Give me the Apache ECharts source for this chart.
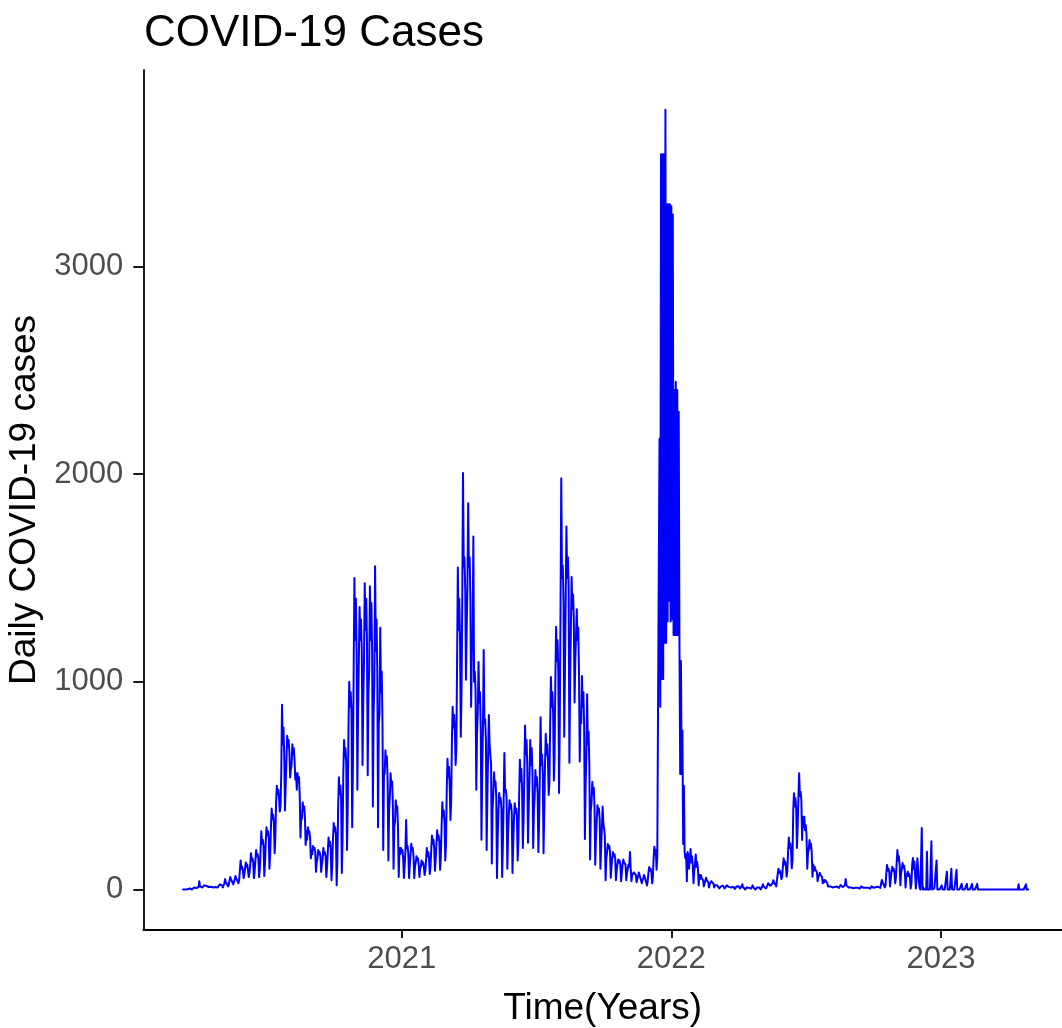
<!DOCTYPE html>
<html>
<head>
<meta charset="utf-8">
<title>COVID-19 Cases</title>
<script src="https://cdn.jsdelivr.net/npm/echarts@6/dist/echarts.min.js"></script>
<style>
  html, body { margin: 0; padding: 0; background: #ffffff; }
  #chart { width: 1062px; height: 1028px; }
</style>
</head>
<body>
<div id="chart"></div>
<script>
// Daily case counts, one array per calendar year, one row per week.
// 2020 starts with the first report on 11 March.
const start2020 = '2020-03-11';
const cases2020 = [
  0, 5, 2, 0, 3, 0, 1,
  2, 4, 5, 1, 3, 0, 2,
  5, 10, 6, 8, 7, 3, 4,
  12, 40, 15, 14, 16, 10, 11,
  14, 20, 15, 13, 17, 10, 12,
  12, 15, 11, 13, 14, 8, 10,
  13, 15, 12, 14, 13, 10, 11,
  15, 25, 18, 16, 20, 10, 14,
  30, 50, 35, 40, 38, 15, 25,
  45, 60, 50, 55, 48, 25, 35,
  50, 65, 55, 60, 58, 30, 45,
  90, 140, 100, 110, 95, 55, 70,
  100, 130, 110, 120, 115, 60, 80,
  120, 175, 140, 150, 130, 55, 90,
  140, 190, 160, 170, 150, 60, 100,
  190, 280, 220, 240, 210, 65, 130,
  230, 300, 260, 280, 250, 100, 170,
  300, 390, 340, 360, 320, 175, 250,
  420, 500, 460, 480, 440, 375, 400,
  560, 890, 700, 780, 650, 380, 500,
  620, 740, 690, 720, 660, 540, 580,
  600, 700, 650, 680, 620, 530, 560,
  480, 560, 520, 540, 450, 250, 350,
  340, 420, 380, 400, 350, 215, 280,
  240, 300, 270, 280, 250, 150, 190,
  170, 210, 190, 200, 180, 85, 130,
  150, 190, 170, 180, 160, 85, 120,
  150, 200, 170, 180, 160, 60, 110,
  180, 250, 210, 230, 200, 45, 120,
  240, 320, 280, 300, 260, 20, 150,
  400, 540, 460, 500, 440, 80, 250,
  560, 720, 640, 680, 600, 190, 400,
  780, 1000, 880, 950, 860, 300, 600,
  1050, 1500, 1200, 1400, 1150, 480, 850,
  1100, 1360, 1200, 1300, 1150, 600, 900,
  1100, 1475, 1250, 1400, 1200, 550, 950,
  1050, 1460, 1200, 1380, 1150, 400, 850,
  1000, 1557, 1150, 1300, 1050, 300, 800,
  850, 1260, 950, 1050, 800, 190, 550,
  560, 670, 600, 640, 520, 140, 380,
  450, 560, 500, 520, 420, 100, 300,
  330, 430, 380, 400, 300, 60, 200,
  170, 200
];

const cases2021 = [
  180, 190, 150, 55, 110,
  180, 335, 200, 210, 170, 55, 120,
  170, 220, 190, 200, 160, 55, 110,
  130, 160, 140, 150, 120, 60, 100,
  110, 140, 120, 130, 110, 70, 90,
  140, 200, 160, 180, 150, 75, 110,
  190, 260, 220, 240, 200, 90, 140,
  220, 285, 240, 260, 230, 95, 160,
  300, 420, 350, 380, 320, 140, 220,
  480, 630, 540, 590, 500, 335, 420,
  720, 880, 780, 840, 760, 600, 680,
  1100, 1550, 1250, 1400, 1200, 735, 950,
  1400, 2005, 1550, 1600, 1450, 1010, 1250,
  1450, 1860, 1550, 1600, 1400, 880, 1150,
  1200, 1700, 1000, 1050, 950, 480, 750,
  850, 1095, 900, 950, 785, 240, 550,
  780, 1153, 800, 820, 720, 190, 450,
  650, 840, 700, 705, 600, 125, 380,
  460, 565, 500, 520, 450, 55, 250,
  380, 465, 420, 440, 390, 60, 220,
  420, 657, 470, 480, 440, 100, 260,
  360, 430, 390, 410, 370, 80, 220,
  340, 415, 370, 390, 350, 140, 240,
  450, 625, 520, 580, 480, 200, 330,
  560, 790, 650, 720, 600, 225, 400,
  540, 720, 600, 680, 560, 200, 380,
  450, 575, 500, 540, 460, 180, 320,
  550, 830, 600, 650, 560, 175, 380,
  600, 750, 650, 700, 620, 455, 520,
  800, 1023, 880, 950, 850, 525, 650,
  1000, 1265, 1100, 1200, 1050, 465, 800,
  1350, 1980, 1500, 1560, 1400, 735, 1050,
  1400, 1748, 1500, 1600, 1450, 610, 1000,
  1250, 1505, 1350, 1420, 1300, 900, 1100,
  1100, 1350, 1200, 1260, 1050, 616, 850,
  800, 1028, 880, 950, 780, 243, 500,
  650, 940, 700, 760, 600, 144, 380,
  420, 518, 460, 490, 400, 119, 250,
  330, 406, 370, 390, 340, 100, 200,
  300, 400, 320, 293, 260, 45, 150,
  180, 219, 200, 210, 180, 57, 110,
  150, 180, 160, 170, 150, 45, 90,
  120, 144, 130, 140, 120, 40, 80,
  120, 144, 130, 138, 120, 45, 80,
  100, 120, 110, 180, 100, 40, 70,
  70, 82, 75, 80, 70, 35, 50,
  65, 82, 70, 78, 65, 30, 45,
  55, 70, 60, 65, 55, 19, 40,
  80, 108, 90, 100, 85, 30, 60,
  150, 206, 170, 190, 95, 160, 880,
  880, 2170, 880, 3540, 1013, 3540, 1013,
  3540, 1188, 3755, 1188, 3300, 1290, 3300,
  1390, 3300, 1290
];

const cases2022 = [
  3290, 1300, 3250, 1225,
  2405, 1225, 2445, 1225, 2405, 1225, 2300,
  1177, 556, 1100, 556, 765, 219, 500,
  180, 150, 170, 40, 180, 160, 100,
  150, 195, 130, 160, 120, 30, 90,
  120, 168, 110, 132, 100, 20, 70,
  50, 70, 55, 60, 45, 15, 30,
  40, 57, 45, 50, 35, 10, 25,
  30, 40, 32, 35, 28, 10, 20,
  18, 25, 20, 22, 15, 5, 10,
  15, 20, 16, 18, 12, 5, 8,
  14, 20, 15, 17, 12, 5, 8,
  10, 15, 12, 13, 9, 3, 6,
  14, 20, 15, 16, 12, 5, 8,
  15, 25, 12, 10, 8, 0, 5,
  10, 15, 8, 9, 7, 0, 4,
  12, 20, 10, 11, 8, 0, 5,
  10, 15, 9, 10, 7, 0, 4,
  15, 25, 14, 16, 12, 5, 8,
  20, 30, 22, 25, 18, 10, 14,
  30, 45, 35, 40, 32, 15, 22,
  75, 100, 80, 90, 78, 50, 62,
  110, 150, 120, 135, 118, 62, 90,
  180, 250, 200, 222, 190, 102, 140,
  380, 463, 400, 440, 390, 200, 300,
  440, 560, 450, 470, 431, 238, 350,
  300, 350, 286, 310, 260, 100, 180,
  190, 238, 200, 220, 182, 62, 120,
  90, 110, 95, 100, 85, 40, 60,
  65, 80, 70, 75, 60, 30, 45,
  35, 46, 40, 42, 32, 15, 22,
  12, 15, 13, 14, 10, 5, 8,
  12, 15, 13, 14, 10, 5, 8,
  15, 22, 16, 18, 12, 5, 9,
  20, 51, 20, 22, 15, 10, 12,
  8, 10, 8, 9, 6, 0, 4,
  8, 10, 8, 9, 6, 0, 4,
  10, 15, 9, 12, 8, 0, 5,
  8, 10, 8, 9, 6, 0, 4,
  10, 15, 10, 12, 8, 0, 5,
  12, 15, 12, 13, 10, 5, 8,
  30, 46, 35, 40, 30, 10, 20,
  80, 118, 90, 100, 85, 15, 50,
  85, 110, 90, 100, 80, 30, 60,
  130, 190, 140, 160, 120, 20, 80,
  100, 128, 105, 115, 90, 10, 60,
  60, 86, 65, 75, 55, 5, 30,
  120, 152, 100, 134, 70, 5, 60,
  150, 100, 40, 10, 0, 0, 296,
  0, 10, 0, 0, 5, 0, 182,
  0, 5, 0, 0, 0, 232, 0,
  0, 0, 5, 0, 0, 140, 0,
  0, 0, 0, 0
];

// From late 2022 most counts arrive as one weekly report.
const cases2023 = [
  0, 20, 0,
  0, 0, 0, 0, 0, 86, 0,
  0, 0, 0, 0, 100, 0, 0,
  0, 0, 0, 0, 95, 0, 0,
  0, 0, 0, 0, 27, 0, 0,
  0, 0, 0, 0, 27, 0, 0,
  0, 0, 0, 0, 27, 0, 0,
  0, 0, 0, 0, 27, 0, 0,
  0, 0, 0, 0, 0, 0, 0,
  0, 0, 0, 0, 0, 0, 0,
  0, 0, 0, 0, 0, 0, 0,
  0, 0, 0, 0, 0, 0, 0,
  0, 0, 0, 0, 0, 0, 0,
  0, 0, 0, 0, 0, 0, 0,
  0, 0, 0, 0, 0, 0, 0,
  0, 0, 0, 0, 25, 0, 0,
  0, 0, 0, 0, 0, 0, 0,
  25, 0, 0, 0
];

// Axis ticks: years on the date axis, case counts on the value axis.
const yearTicks = ['2021-01-01', '2022-01-01', '2023-01-01'];
const caseTicks = [0, 1000, 2000, 3000];

const DAY = 86400000;
const utc = function (d) { return Date.parse(d + 'T00:00:00Z'); };

// Pair each count with its calendar day.
function dated(first, values) {
  const t0 = utc(first);
  return values.map(function (v, i) { return [t0 + i * DAY, v]; });
}
const points = [].concat(
  dated(start2020, cases2020),
  dated('2021-01-01', cases2021),
  dated('2022-01-01', cases2022),
  dated('2023-01-01', cases2023)
);

const tickStamps = yearTicks.map(utc);
const FONT = '"Liberation Sans", Arial, sans-serif';
const axisStroke = { color: '#000000', width: 1.8 };

const chart = echarts.init(document.getElementById('chart'), null, { renderer: 'canvas' });
chart.setOption({
  animation: false,
  backgroundColor: '#ffffff',
  title: {
    text: 'COVID-19 Cases',
    left: 144,
    top: 12,
    padding: 0,
    textStyle: { fontFamily: FONT, fontSize: 44, fontWeight: 'normal', color: '#000000' }
  },
  grid: {
    left: 143.3, right: 0, top: 70, bottom: 98,
    containLabel: false, outerBoundsMode: 'none'
  },
  xAxis: {
    type: 'value',
    min: Date.parse('2020-01-17T06:00:00Z'),
    max: Date.parse('2023-06-13T19:00:00Z'),
    splitLine: { show: false },
    axisLine: { show: true, onZero: false, lineStyle: axisStroke },
    axisTick: { show: true, length: 8, customValues: tickStamps, lineStyle: axisStroke },
    axisLabel: {
      customValues: tickStamps,
      formatter: function (v) { return String(new Date(v).getUTCFullYear()); },
      fontFamily: FONT, fontSize: 31, color: '#4D4D4D', margin: 14
    },
    name: 'Time(Years)',
    nameLocation: 'middle',
    nameGap: 60,
    nameTextStyle: { fontFamily: FONT, fontSize: 37, color: '#000000' }
  },
  yAxis: {
    type: 'value',
    min: -195,
    max: 3946,
    splitLine: { show: false },
    axisLine: { show: true, lineStyle: axisStroke },
    axisTick: { show: true, length: 10, customValues: caseTicks, lineStyle: axisStroke },
    axisLabel: {
      customValues: caseTicks,
      formatter: function (v) { return String(v); },
      fontFamily: FONT, fontSize: 31, color: '#4D4D4D', margin: 20
    },
    name: 'Daily COVID-19 cases',
    nameLocation: 'middle',
    nameRotate: 90,
    nameGap: 83,
    nameTextStyle: { fontFamily: FONT, fontSize: 37, color: '#000000' }
  },
  series: [{
    type: 'line',
    data: points,
    symbol: 'none',
    showSymbol: false,
    sampling: false,
    silent: true,
    lineStyle: { color: '#0000FF', width: 2, join: 'round', cap: 'round' }
  }]
});
</script>
</body>
</html>
